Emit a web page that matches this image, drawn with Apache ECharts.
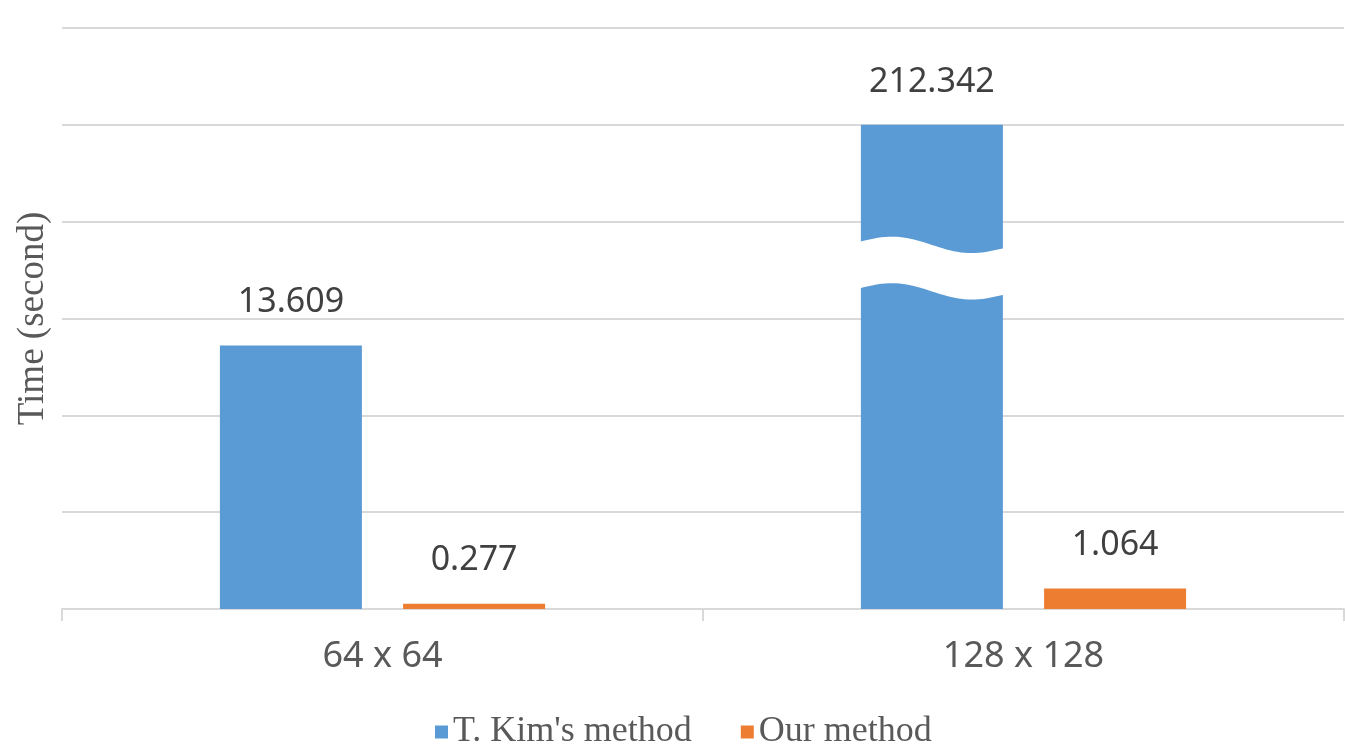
<!DOCTYPE html>
<html>
<head>
<meta charset="utf-8">
<title>Time (second)</title>
<script src="https://cdn.jsdelivr.net/npm/echarts@6.0.0/dist/echarts.min.js"></script>
<style>
  html, body { margin: 0; padding: 0; background: #fff; }
  #chart { width: 1345px; height: 746px; }
</style>
</head>
<body>
<div id="chart"></div>
<script>
const sizes = ['64 x 64', '128 x 128']
const kimTimes = [13.609, 212.342]
const ourTimes = [0.277, 1.064]
const seriesNames = ["T. Kim's method", 'Our method']

// y axis has no labels; bars above yMax are cut at CUT_AT with a wavy break
const yMin = 0
const yMax = 30
const yStep = 5
const CUT_AT = 25
const breakBand = [16.4, 18.8]

const BAR_W = 142
const BAR_GAP = '29%'
const numFont = 'Noto Sans'
const serifFont = 'Liberation Serif'

function shown(v) {
  return v > yMax ? { value: CUT_AT } : v
}

function barLabel(values) {
  return {
    show: true,
    position: 'top',
    distance: 26,
    fontFamily: numFont,
    fontSize: 34,
    color: '#404040',
    formatter: p => values[p.dataIndex].toFixed(3)
  }
}

// where the white wave goes
const breaks = []
kimTimes.forEach((v, i) => {
  if (v > yMax) breaks.push([i, breakBand[0], breakBand[1]])
})

function renderBreak(params, api) {
  const idx = api.value(0)
  const low = api.coord([idx, api.value(1)])
  const high = api.coord([idx, api.value(2)])
  let offset = -(BAR_W * 2 + BAR_W * 0.29) / 2
  let width = BAR_W
  if (api.barLayout) {
    const slot = api.barLayout({ count: 2, barWidth: BAR_W, barGap: BAR_GAP })
    if (slot && slot[0]) {
      offset = slot[0].offset
      width = slot[0].width
    }
  }
  const left = low[0] + offset - 1
  const w = width + 2
  const amp = 6.5
  const tilt = 6.5
  const top = []
  const bottom = []
  for (let k = 0; k <= 40; k++) {
    const t = k / 40
    const dy = tilt * (t - 0.5) - amp * Math.sin(2 * Math.PI * t)
    top.push([left + w * t, high[1] + dy])
    bottom.push([left + w * t, low[1] + dy])
  }
  return {
    type: 'polygon',
    shape: { points: top.concat(bottom.reverse()) },
    style: { fill: '#fff' }
  }
}

const chart = echarts.init(document.getElementById('chart'))
chart.setOption({
  animation: false,
  backgroundColor: '#fff',
  grid: { left: 62, right: 1, top: 28, bottom: 137 },
  legend: {
    data: seriesNames,
    left: 430,
    top: 709,
    icon: 'rect',
    itemWidth: 13,
    itemHeight: 13,
    itemGap: 49,
    textStyle: { fontFamily: serifFont, fontSize: 36, color: '#595959' }
  },
  xAxis: {
    type: 'category',
    data: sizes,
    axisLine: { show: true, lineStyle: { color: '#d9d9d9', width: 2 } },
    axisTick: { show: true, interval: 0, length: 12, lineStyle: { color: '#d9d9d9', width: 2 } },
    axisLabel: { fontFamily: numFont, fontSize: 36, color: '#595959', margin: 30 }
  },
  yAxis: {
    type: 'value',
    min: yMin,
    max: yMax,
    interval: yStep,
    name: 'Time (second)',
    nameLocation: 'middle',
    nameGap: 10,
    nameTextStyle: { fontFamily: serifFont, fontSize: 37, color: '#595959' },
    axisLabel: { show: false },
    axisLine: { show: false },
    axisTick: { show: false },
    splitLine: { lineStyle: { color: '#d9d9d9', width: 2 } }
  },
  series: [
    {
      name: seriesNames[0],
      type: 'bar',
      data: kimTimes.map(shown),
      barWidth: BAR_W,
      barGap: BAR_GAP,
      itemStyle: { color: '#5B9BD5' },
      label: barLabel(kimTimes)
    },
    {
      name: seriesNames[1],
      type: 'bar',
      data: ourTimes.map(shown),
      barWidth: BAR_W,
      barGap: BAR_GAP,
      itemStyle: { color: '#ED7D31' },
      label: barLabel(ourTimes)
    },
    {
      type: 'custom',
      data: breaks,
      z: 5,
      silent: true,
      renderItem: renderBreak
    }
  ]
})
</script>
</body>
</html>
